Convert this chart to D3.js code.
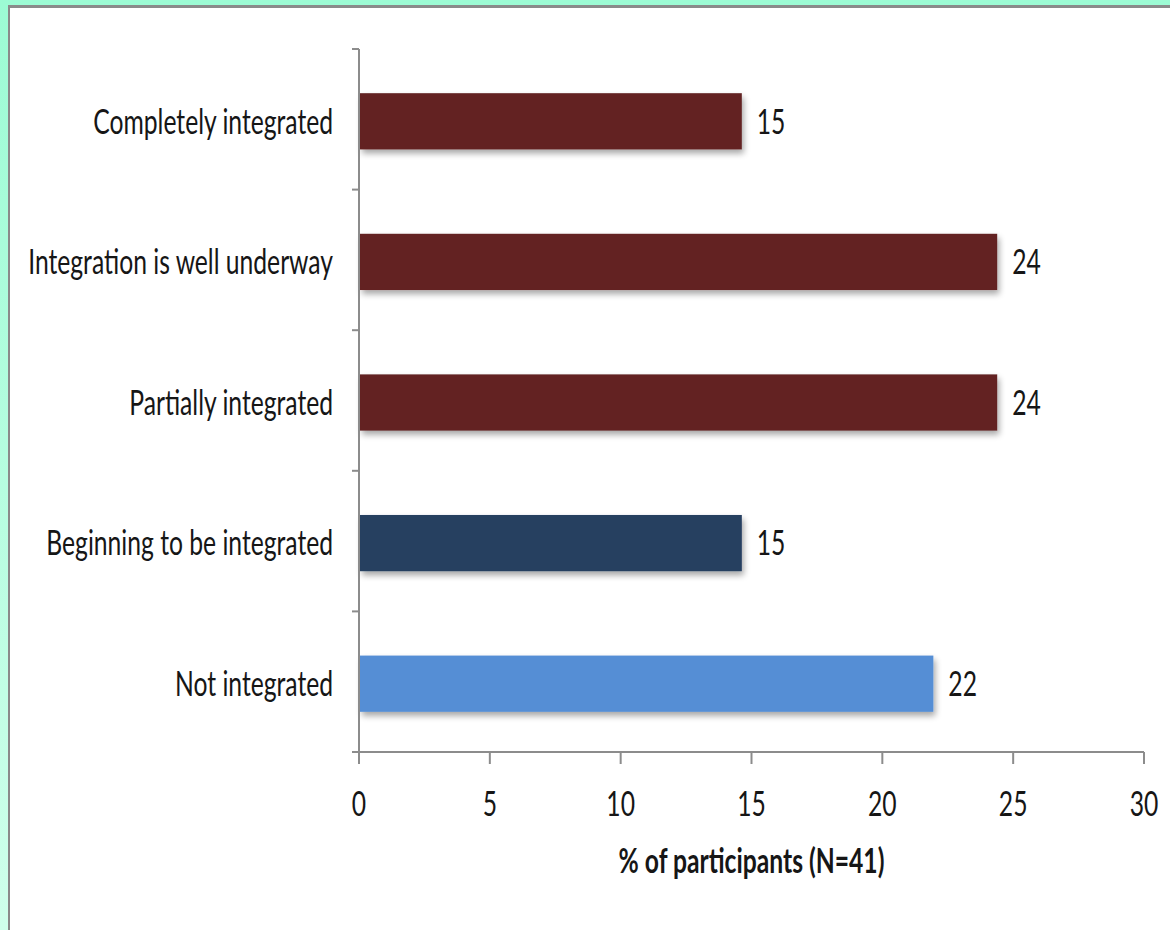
<!DOCTYPE html>
<html lang="en">
<head>
<meta charset="UTF-8">
<title>Integration</title>
<script src="https://cdn.jsdelivr.net/npm/d3@7/dist/d3.min.js"></script>
<style>
    html, body { margin: 0; padding: 0; background: #fff; }
    svg { display: block; }
    .lbl { font-family: Lato, "Open Sans", sans-serif; fill: #161616; font-size: 34px; }
</style>
</head>
<body>
<div id="chart"></div>
<script>
    // data (order: top to bottom)
    var categories = ["Completely integrated", "Integration is well underway", "Partially integrated", "Beginning to be integrated", "Not integrated"];
    var values = [14.63, 24.39, 24.39, 14.63, 21.95];
    var valueLabels = ["15", "24", "24", "15", "22"];
    var barColors = ["#632424", "#632424", "#632424", "#254061", "#558ED5"];
    var xTicks = [0, 5, 10, 15, 20, 25, 30];
    var xTitle = "% of participants (N=41)";

    var W = 1170, H = 930;
    var svg = d3.select("#chart").append("svg")
        .attr("width", W)
        .attr("height", H);

    var defs = svg.append("defs");
    var grad = defs.append("linearGradient").attr("id", "frameGrad")
        .attr("x1", 0).attr("y1", 0).attr("x2", 0).attr("y2", 1);
    grad.append("stop").attr("offset", "0%").attr("stop-color", "#9cfbd4");
    grad.append("stop").attr("offset", "100%").attr("stop-color", "#cfffeb");

    var shadow = defs.append("filter").attr("id", "shadow")
        .attr("x", "-5%").attr("y", "-20%").attr("width", "110%").attr("height", "160%");
    shadow.append("feGaussianBlur").attr("in", "SourceAlpha").attr("stdDeviation", 3);
    shadow.append("feOffset").attr("dx", 2).attr("dy", 4).attr("result", "off");
    shadow.append("feComponentTransfer").append("feFuncA").attr("type", "linear").attr("slope", 0.35);
    var merge = shadow.append("feMerge");
    merge.append("feMergeNode");
    merge.append("feMergeNode").attr("in", "SourceGraphic");

    // frame
    svg.append("rect").attr("width", W).attr("height", H).attr("fill", "url(#frameGrad)");
    svg.append("rect").attr("x", 8).attr("y", 5).attr("width", W - 8).attr("height", H - 5).attr("fill", "#8a8a8a");
    svg.append("rect").attr("x", 10).attr("y", 8).attr("width", W - 10).attr("height", H - 8).attr("fill", "#fff");

    var margin = {left: 359, right: 26, top: 49, bottom: 178};
    var x = d3.scaleLinear().domain([0, 30]).range([margin.left, W - margin.right]);
    var y = d3.scaleBand().domain(categories).range([margin.top, H - margin.bottom]).paddingInner(0.6).paddingOuter(0.3);
    var yEdges = d3.scaleLinear().domain([0, categories.length]).range([margin.top, H - margin.bottom]);

    var axisColor = "#8c8c8c";
    var bottom = H - margin.bottom;

    // the reference font is condensed: squeeze text horizontally
    var probe = svg.append("text").attr("class", "lbl").text("Integration is well underway");
    var sx = 305 / probe.node().getComputedTextLength();
    probe.remove();

    function label(g, px, py, txt, anchor, bold) {
        var t = g.append("g")
            .attr("transform", "translate(" + px + "," + py + ") scale(" + sx + ",1)")
            .append("text")
            .attr("class", "lbl")
            .attr("dy", "0.36em")
            .attr("text-anchor", anchor)
            .text(txt);
        if (bold) t.attr("font-weight", "bold");
        return t;
    }

    // bars
    svg.append("g").selectAll("rect")
        .data(values)
        .join("rect")
        .attr("x", x(0) + 1)
        .attr("y", function(d, i) { return y(categories[i]) + 2; })
        .attr("width", function(d) { return x(d) - x(0) - 1; })
        .attr("height", y.bandwidth())
        .attr("fill", function(d, i) { return barColors[i]; })
        .attr("filter", "url(#shadow)");

    var texts = svg.append("g");

    // value labels
    values.forEach(function(d, i) {
        label(texts, x(d) + 15, y(categories[i]) + 2 + y.bandwidth() / 2, valueLabels[i], "start");
    });

    // y axis
    var ya = svg.append("g").attr("stroke", axisColor).attr("stroke-width", 2);
    ya.append("line").attr("x1", x(0)).attr("x2", x(0)).attr("y1", margin.top).attr("y2", bottom);
    ya.selectAll("line.t").data(d3.range(categories.length + 1)).join("line")
        .attr("class", "t")
        .attr("x1", x(0) - 7).attr("x2", x(0))
        .attr("y1", function(d) { return yEdges(d); })
        .attr("y2", function(d) { return yEdges(d); });

    // category labels
    categories.forEach(function(c) {
        label(texts, 333, y(c) + 2 + y.bandwidth() / 2, c, "end");
    });

    // x axis
    var xa = svg.append("g").attr("stroke", axisColor).attr("stroke-width", 2);
    xa.append("line").attr("x1", x(0) - 7).attr("x2", x(30)).attr("y1", bottom).attr("y2", bottom);
    xa.selectAll("line.t").data(xTicks).join("line")
        .attr("class", "t")
        .attr("x1", function(d) { return x(d); }).attr("x2", function(d) { return x(d); })
        .attr("y1", bottom).attr("y2", bottom + 12);

    xTicks.forEach(function(d) {
        label(texts, x(d), 804, String(d), "middle");
    });

    label(texts, x(15), 861, xTitle, "middle", true);
</script>
</body>
</html>
